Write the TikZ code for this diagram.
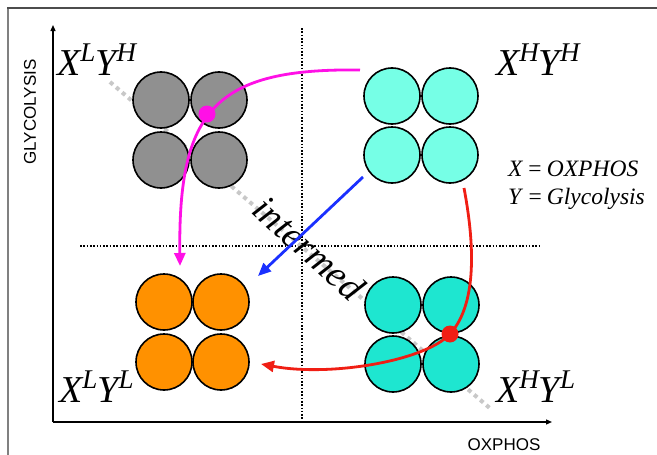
\documentclass[tikz,border=0pt]{standalone}
\usepackage{fontspec}
\setmainfont{Liberation Serif}
\newfontfamily\axisfont{Liberation Sans}
\usetikzlibrary{arrows.meta}
\definecolor{cgray}{HTML}{909090}
\definecolor{ccyanA}{HTML}{76FFE6}
\definecolor{ccyanB}{HTML}{1EE6D0}
\definecolor{corange}{HTML}{FF9100}
\definecolor{cmag}{HTML}{FF10E6}
\definecolor{cblue}{HTML}{1A30FF}
\definecolor{cred}{HTML}{F01E14}
\definecolor{cdiag}{HTML}{C8C8C8}
\newcommand\sups[1]{\raisebox{0.36em}{\fontsize{27}{27}\selectfont #1}}
\begin{document}
\begin{tikzpicture}[x=1pt,y=1pt,
  cell/.style={circle, draw=black, line width=1.6pt, minimum size=56pt, inner sep=0pt},
  biglabel/.style={font=\fontsize{38}{38}\selectfont\itshape, inner sep=0pt, anchor=base west},
  legendtxt/.style={font=\fontsize{23.5}{23.5}\selectfont\itshape, inner sep=0pt, anchor=base west},
  axislabel/.style={font=\axisfont\fontsize{17}{17}\selectfont, inner sep=0pt},
  axisline/.style={line width=1.3pt, -{Triangle[length=6pt,width=5pt]}},
  dotline/.style={line width=1.6pt, dash pattern=on 1.6pt off 1.7pt},
  diagline/.style={cdiag, line width=4pt, dash pattern=on 4pt off 4pt},
  tipped/.style={line width=2.8pt, -{Triangle[length=13pt,width=11pt]}},
  dotmark/.style={circle, inner sep=0pt, minimum size=17pt}]
\useasboundingbox (0,0) rectangle (657,-455);
\fill[white] (0,0) rectangle (657,-455);
% frame
\draw[gray, line width=1.6pt] (8,-455) -- (8,-8);
\draw[black!70, line width=1.3pt] (7.2,-8) -- (657,-8);
% axes
\coordinate (O) at (53,-422);
\coordinate (ytop) at (53,-25);
\coordinate (xend) at (552,-422);
\draw[axisline] (O) -- (ytop);
\draw[axisline] (O) -- (xend);
% dotted quadrant lines
\coordinate (vt) at (302,-28);
\coordinate (vb) at (302,-420);
\coordinate (hl) at (80,-246);
\coordinate (hr) at (540,-246);
\draw[dotline] (vt) -- (vb);
\draw[dotline] (hl) -- (hr);
% diagonal
\coordinate (d1) at (110,-82);
\coordinate (d2) at (492,-410);
\draw[diagline] (d1) -- (d2);
\node[font=\fontsize{38}{38}\selectfont\itshape, rotate=-42, inner sep=0pt] (im) at (309,-248) {intermed};
% cells
\foreach \n/\x/\y in {1/161/100, 2/219/100, 3/161/160, 4/219/160}
  \node[cell, fill=cgray] (g\n) at (\x,-\y) {};
\foreach \n/\x/\y in {1/392/96, 2/450/96, 3/392/155, 4/450/155}
  \node[cell, fill=ccyanA] (ca\n) at (\x,-\y) {};
\foreach \n/\x/\y in {1/164/302, 2/221/302, 3/164/362, 4/221/362}
  \node[cell, fill=corange] (o\n) at (\x,-\y) {};
\foreach \n/\x/\y in {1/393/305, 2/451/305, 3/393/364, 4/451/364}
  \node[cell, fill=ccyanB] (cb\n) at (\x,-\y) {};
% labels
\node[biglabel] (lyh) at (57,-75) {X\sups{L}Y\sups{H}};
\node[biglabel] (hyh) at (496,-75) {X\sups{H}Y\sups{H}};
\node[biglabel] (lyl) at (59,-402) {X\sups{L}Y\sups{L}};
\node[biglabel] (hyl) at (496,-402) {X\sups{H}Y\sups{L}};
\node[legendtxt] (lx) at (508,-176) {X\hspace{0.22em}\textup{=}\hspace{0.22em}OXPHOS};
\node[legendtxt] (ly) at (508,-204) {Y\hspace{0.22em}\textup{=}\hspace{0.22em}Glycolysis};
\node[axislabel, rotate=90] (gly) at (30,-112) {GLYCOLYSIS};
\node[axislabel] (oxp) at (504,-445) {OXPHOS};
% arrows
\coordinate (ms) at (360,-70);
\coordinate (me) at (180,-266);
\draw[tipped, cmag] (ms) .. controls (215,-68) and (178,-110) .. (me);
\node[dotmark, fill=cmag] (md) at (207,-114) {};
\coordinate (bs) at (363,-177);
\coordinate (be) at (258,-276);
\draw[tipped, cblue] (bs) -- (be);
\coordinate (rs) at (464,-188);
\coordinate (rd) at (450,-334);
\coordinate (re) at (261,-364);
\draw[tipped, cred] (rs) .. controls (478,-262) and (472,-310) .. (rd) .. controls (425,-361) and (330,-377) .. (re);
\node[dotmark, fill=cred] (rdot) at (rd) {};
\end{tikzpicture}
\end{document}
